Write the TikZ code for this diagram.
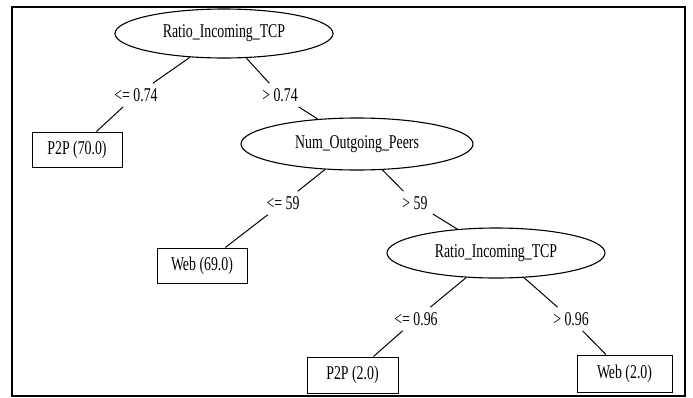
\documentclass[tikz,border=0pt]{standalone}
\usepackage{fontspec}
\setmainfont{Liberation Serif}[FakeStretch=0.71]
\usetikzlibrary{shapes.geometric}
\begin{document}
\begin{tikzpicture}[x=1pt,y=-1pt,
  every node/.style={font=\fontsize{19.5}{23}\selectfont, inner sep=0pt},
  test/.style={draw, ellipse, line width=1.1pt},
  leaf/.style={draw, rectangle, line width=1pt},
  lbl/.style={inner sep=5pt},
  conn/.style={line width=1pt}]
\useasboundingbox (0,0) rectangle (693,397);
\draw[line width=2pt] (12,7) rectangle (685,396);
% nodes
\node[test, minimum width=218pt, minimum height=49pt] (r1) at (224,33.5) {Ratio\_Incoming\_TCP};
\node[leaf, minimum width=90pt, minimum height=35pt] (l1) at (77,149.5) {P2P (70.0)};
\node[lbl] (e1) at (136,95) {<= 0.74};
\node[lbl] (e2) at (280,95) {> 0.74};
\node[test, minimum width=232pt, minimum height=52pt] (r2) at (357,144) {Num\_Outgoing\_Peers};
\node[lbl] (e3) at (283,203) {<= 59};
\node[lbl] (e4) at (415,203) {> 59};
\node[leaf, minimum width=90pt, minimum height=35pt] (l2) at (202,265.5) {Web (69.0)};
\node[test, minimum width=218pt, minimum height=50pt] (r3) at (496,253) {Ratio\_Incoming\_TCP};
\node[lbl] (e5) at (416,319) {<= 0.96};
\node[lbl] (e6) at (571,319) {> 0.96};
\node[leaf, minimum width=91pt, minimum height=36pt] (l3) at (352.5,375) {P2P (2.0)};
\node[leaf, minimum width=95pt, minimum height=37pt] (l4) at (624.5,373.5) {Web (2.0)};
% connectors
\draw[conn] (r1) -- (e1); \draw[conn] (e1) -- (l1);
\draw[conn] (r1) -- (e2); \draw[conn] (e2) -- (r2);
\draw[conn] (r2) -- (e3); \draw[conn] (e3) -- (l2);
\draw[conn] (r2) -- (e4); \draw[conn] (e4) -- (r3);
\draw[conn] (r3) -- (e5); \draw[conn] (e5) -- (l3);
\draw[conn] (r3) -- (e6); \draw[conn] (e6) -- (l4);
\end{tikzpicture}
\end{document}
